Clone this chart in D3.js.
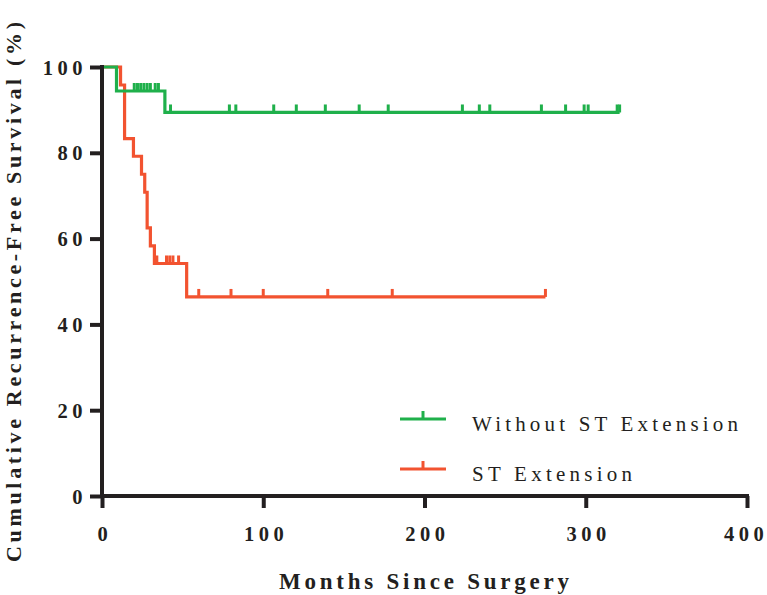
<!DOCTYPE html>
<html><head><meta charset="utf-8">
<script src="https://cdn.jsdelivr.net/npm/d3@7"></script>
<style>body{margin:0;background:#fff}svg{display:block}</style>
</head><body>
<script>
// ---- data ----
const xTicks = [0, 100, 200, 300, 400];
const yTicks = [0, 20, 40, 60, 80, 100];
const seriesNames = ["Without ST Extension", "ST Extension"];
const greenTimes = [0, 9, 39];
const greenSurv = [100, 94.4, 89.4];
const greenEnd = 321;
const greenCensor = [20, 22, 24, 26, 28, 30, 33, 35, 42.5, 79, 83, 106.5, 120.5, 138.5, 159.5, 177.5, 223.5, 234, 240.5, 272.5, 287.5, 299, 301.5, 319.5, 321];
const redTimes = [0, 11.5, 14, 19.5, 24.5, 26.5, 28, 30, 32.5, 52.5];
const redSurv = [100, 95.8, 83.3, 79.2, 75.0, 70.8, 62.5, 58.3, 54.2, 46.4];
const redEnd = 275;
const redCensor = [34, 40, 42, 44, 47.5, 60, 80, 100, 140, 180, 275];
const colors = ["#1fb04b", "#f25330"];

const W = 767, H = 595;
const svg = d3.select("body").append("svg").attr("width", W).attr("height", H);
const x = d3.scaleLinear().domain([0, 400]).range([102, 747]);
const y = d3.scaleLinear().domain([0, 100]).range([496, 67]);
const ink = "#231f20";
const serif = "'Liberation Serif', 'Times New Roman', serif";

function survAt(times, surv, t) {
  let v = surv[0];
  for (let i = 0; i < times.length; i++) if (times[i] <= t) v = surv[i];
  return v;
}

const series = [
  {times: greenTimes, surv: greenSurv, end: greenEnd, censor: greenCensor, color: colors[0]},
  {times: redTimes, surv: redSurv, end: redEnd, censor: redCensor, color: colors[1]}
];

const xAxis = d3.axisBottom(x).tickValues(xTicks).tickSize(12).tickSizeOuter(0).tickPadding(0).tickFormat(d3.format("d"));
const yAxis = d3.axisLeft(y).tickValues(yTicks).tickSize(12).tickSizeOuter(0).tickPadding(3).tickFormat(d3.format("d"));

const line = d3.line().x(d => x(d[0])).y(d => y(d[1])).curve(d3.curveStepAfter);

[series[1], series[0]].forEach(s => {
  const pts = s.times.map((t, i) => [t, s.surv[i]]);
  pts.push([s.end, s.surv[s.surv.length - 1]]);
  svg.append("path").attr("d", line(pts)).attr("fill", "none")
    .attr("stroke", s.color).attr("stroke-width", 3.2).attr("stroke-linejoin", "miter");
  svg.append("g").selectAll("line").data(s.censor).join("line")
    .attr("x1", d => x(d)).attr("x2", d => x(d))
    .attr("y1", d => y(survAt(s.times, s.surv, d)))
    .attr("y2", d => y(survAt(s.times, s.surv, d)) - 8)
    .attr("stroke", s.color).attr("stroke-width", 3);
});

const gx = svg.append("g").attr("transform", "translate(0,496)").call(xAxis);
const gy = svg.append("g").attr("transform", "translate(102,0)").call(yAxis);
[gx, gy].forEach(g => {
  g.select(".domain").attr("stroke", ink).attr("stroke-width", 4);
  g.selectAll(".tick line").attr("stroke", ink).attr("stroke-width", 4);
  g.selectAll(".tick text").attr("fill", ink)
    .style("font-family", serif).style("font-weight", "bold").style("font-size", "20.5px")
    .style("letter-spacing", "4.5px");
});
gx.select(".domain").attr("d", "M100,0H749");
gy.select(".domain").attr("d", "M0,498V65");
gx.selectAll(".tick text").attr("y", 45).attr("dy", null)
  .attr("dx", d => d === 400 ? "-1.5px" : "2.25px");
gy.selectAll(".tick text").attr("dy", "0.35em");

svg.append("text").attr("x", 424).attr("y", 589).attr("text-anchor", "middle")
  .attr("textLength", 290).attr("lengthAdjust", "spacing")
  .style("font-family", serif).style("font-weight", "bold").style("font-size", "23px").attr("fill", ink)
  .text("Months Since Surgery");
svg.append("text").attr("transform", "translate(21,292) rotate(-90)").attr("text-anchor", "middle")
  .attr("textLength", 540).attr("lengthAdjust", "spacing")
  .style("font-family", serif).style("font-weight", "bold").style("font-size", "22px").attr("fill", ink)
  .text("Cumulative Recurrence-Free Survival (%)");

const legY = [419, 469];
const legLen = [266, 160];
seriesNames.forEach((name, i) => {
  const g = svg.append("g");
  g.append("line").attr("x1", 400).attr("x2", 446).attr("y1", legY[i]).attr("y2", legY[i])
    .attr("stroke", colors[i]).attr("stroke-width", 3.2);
  g.append("line").attr("x1", 423).attr("x2", 423).attr("y1", legY[i]).attr("y2", legY[i] - 8)
    .attr("stroke", colors[i]).attr("stroke-width", 3);
  g.append("text").attr("x", 472).attr("y", legY[i] + 12)
    .attr("textLength", legLen[i]).attr("lengthAdjust", "spacing")
    .style("font-family", serif).style("font-size", "21px").attr("fill", ink).text(name);
});
</script>
</body></html>
